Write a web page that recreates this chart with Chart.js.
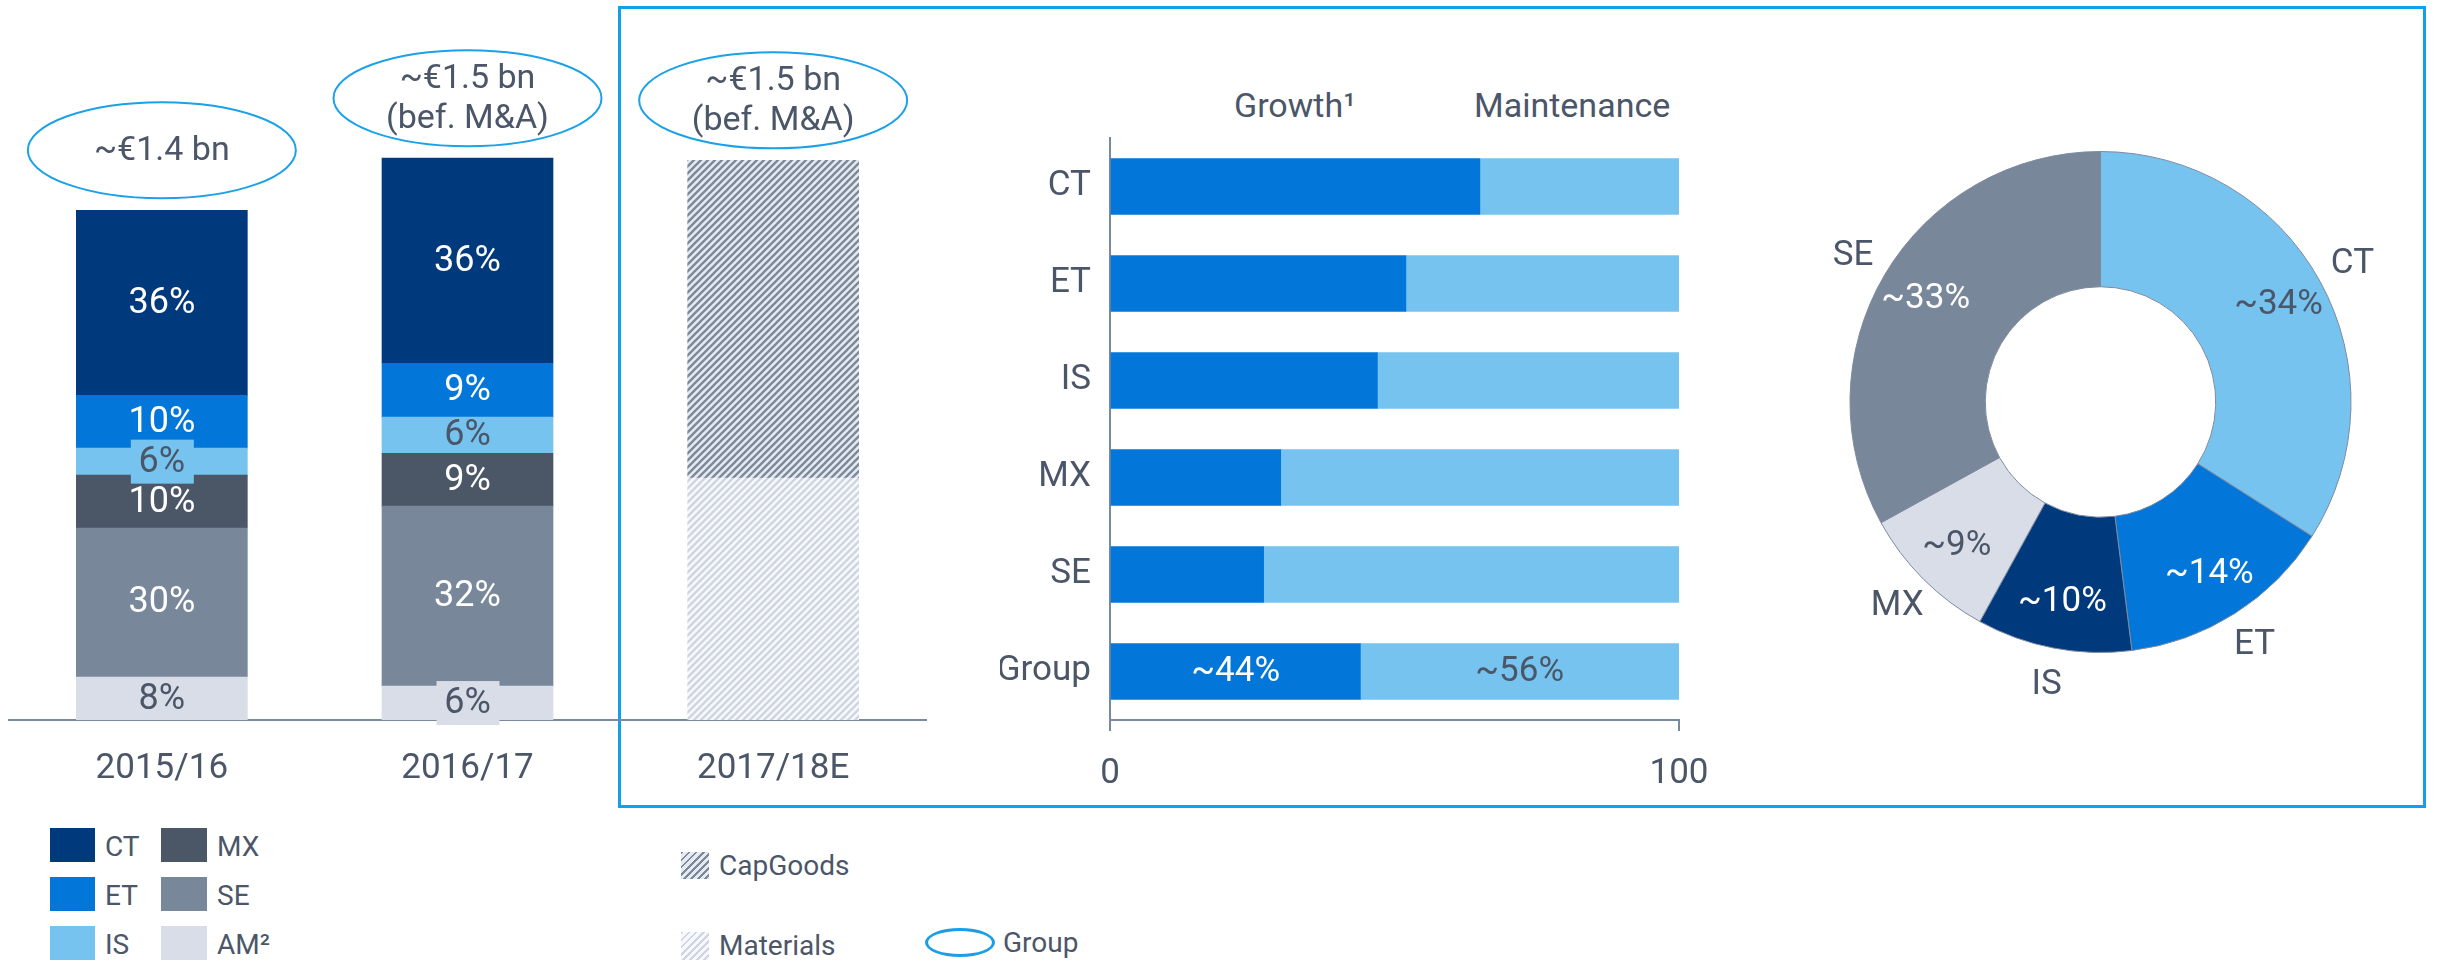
<!DOCTYPE html>
<html>
<head>
<meta charset="utf-8">
<script src="https://cdn.jsdelivr.net/npm/chart.js@4.4.1/dist/chart.umd.min.js"></script>
<style>
  body { margin: 0; background: #fff; }
  #page { position: relative; width: 2440px; height: 962px; overflow: hidden; font-family: Roboto, "Liberation Sans", sans-serif; color: #4b5668; }
  .layer { position: absolute; left: 0; top: 0; }
  .box { position: absolute; left: 618px; top: 6px; width: 1808px; height: 802px; border: 3px solid #12a0ea; box-sizing: border-box; }
  .txt { position: absolute; height: 40px; line-height: 40px; white-space: nowrap; }
  .hdr { font-size: 34px; }
  .leg { font-size: 28px; }
  .sw { position: absolute; }
  .capgoods { background: repeating-linear-gradient(135deg, #7a889c 0 2px, #e6e9ef 2px 5px); }
  .materials { background: repeating-linear-gradient(135deg, #cdd5e2 0 2px, #f7f8fb 2px 5px); }
  .grp { position: absolute; border: 3px solid #1a9fe6; border-radius: 50%; box-sizing: border-box; }
</style>
</head>
<body>
<div id="page">
  <div class="box"></div>

  <div class="txt hdr" style="left:1234px; top:85px;">Growth¹</div>
  <div class="txt hdr" style="left:1474px; top:85px;">Maintenance</div>

  <div class="sw" style="left:50px; top:828px; width:45px; height:34px; background:#003a7d;"></div>
  <div class="txt leg" style="left:105px; top:827px;">CT</div>
  <div class="sw" style="left:50px; top:877px; width:45px; height:34px; background:#0277d9;"></div>
  <div class="txt leg" style="left:105px; top:876px;">ET</div>
  <div class="sw" style="left:50px; top:926px; width:45px; height:34px; background:#75c3ee;"></div>
  <div class="txt leg" style="left:105px; top:925px;">IS</div>
  <div class="sw" style="left:161px; top:828px; width:46px; height:34px; background:#4b5667;"></div>
  <div class="txt leg" style="left:217px; top:827px;">MX</div>
  <div class="sw" style="left:161px; top:877px; width:46px; height:34px; background:#788799;"></div>
  <div class="txt leg" style="left:217px; top:876px;">SE</div>
  <div class="sw" style="left:161px; top:926px; width:46px; height:34px; background:#d9dde8;"></div>
  <div class="txt leg" style="left:217px; top:925px;">AM²</div>

  <div class="sw capgoods" style="left:681px; top:852px; width:28px; height:27px;"></div>
  <div class="txt leg" style="left:719px; top:846px;">CapGoods</div>
  <div class="sw materials" style="left:681px; top:932px; width:28px; height:28px;"></div>
  <div class="txt leg" style="left:719px; top:926px;">Materials</div>
  <div class="grp" style="left:925px; top:928px; width:70px; height:29px;"></div>
  <div class="txt leg" style="left:1003px; top:923px;">Group</div>

  <div class="layer"><canvas id="capexChart" width="2440" height="962"></canvas></div>
  <div class="layer"><canvas id="splitChart" width="2440" height="962"></canvas></div>
  <div class="layer"><canvas id="pieChart" width="2440" height="962"></canvas></div>
</div>

<script>
// capex by segment, EUR m, bottom to top
const years = ['2015/16', '2016/17', '2017/18E'];
const totalLabels = [['~€1.4 bn'], ['~€1.5 bn', '(bef. M&A)'], ['~€1.5 bn', '(bef. M&A)']];
const amValues = [118, 93, null];
const seValues = [409, 494, null];
const mxValues = [145, 145, null];
const isValues = [74, 99, null];
const etValues = [145, 148, null];
const ctValues = [508, 563, null];
const materialsValues = [null, null, 664];
const capGoodsValues = [null, null, 872];
const amPct = ['8%', '6%', ''];
const sePct = ['30%', '32%', ''];
const mxPct = ['10%', '9%', ''];
const isPct = ['6%', '6%', ''];
const etPct = ['10%', '9%', ''];
const ctPct = ['36%', '36%', ''];

// growth vs maintenance share, %
const segments = ['CT', 'ET', 'IS', 'MX', 'SE', 'Group'];
const growthShare = [65, 52, 47, 30, 27, 44];
const maintenanceShare = [35, 48, 53, 70, 73, 56];
const growthLabels = ['', '', '', '', '', '~44%'];
const maintenanceLabels = ['', '', '', '', '', '~56%'];

// 2017/18E split by segment, %
const pieLabels = ['CT', 'ET', 'IS', 'MX', 'SE'];
const pieValues = [34, 14, 10, 9, 33];
const piePct = ['~34%', '~14%', '~10%', '~9%', '~33%'];

const TEXT = '#4b5668';
const AXIS = '#7a89a0';
const FONT = 'Roboto, "Liberation Sans", sans-serif';
Chart.defaults.font.family = FONT;
Chart.defaults.color = TEXT;

function makeStripes(fg, bg) {
    const c = document.createElement('canvas');
    c.width = 7; c.height = 7;
    const g = c.getContext('2d');
    g.fillStyle = bg;
    g.fillRect(0, 0, 7, 7);
    g.strokeStyle = fg;
    g.lineWidth = 2.3;
    g.beginPath();
    g.moveTo(0, 7); g.lineTo(7, 0);
    g.moveTo(-1, 1); g.lineTo(1, -1);
    g.moveTo(6, 8); g.lineTo(8, 6);
    g.stroke();
    return g.createPattern(c, 'repeat');
}

const barLabels = {
    id: 'barLabels',
    afterDatasetsDraw(chart) {
        const ctx = chart.ctx;
        ctx.save();
        ctx.textAlign = 'center';
        ctx.textBaseline = 'middle';
        ctx.font = '36px ' + FONT;
        chart.data.datasets.forEach((ds, i) => {
            if (!ds.pct) return;
            chart.getDatasetMeta(i).data.forEach((bar, j) => {
                const txt = ds.pct[j];
                if (!txt) return;
                const y = (bar.y + bar.base) / 2;
                if (bar.base - bar.y < 35) {
                    ctx.fillStyle = ds.backgroundColor;
                    ctx.fillRect(bar.x - 31, y - 22, 63, 44);
                }
                ctx.fillStyle = ds.labelColor;
                ctx.fillText(txt, bar.x, y + 1);
            });
        });
        // total bubbles above each column
        const xs = chart.scales.x, ys = chart.scales.y;
        years.forEach((yr, j) => {
            let total = 0;
            chart.data.datasets.forEach(ds => { total += ds.data[j] || 0; });
            const cx = xs.getPixelForValue(j);
            const cy = ys.getPixelForValue(total) - 60;
            ctx.beginPath();
            ctx.ellipse(cx, cy, 134, 48, 0, 0, Math.PI * 2);
            ctx.strokeStyle = '#1ba1e8';
            ctx.lineWidth = 2;
            ctx.stroke();
            ctx.fillStyle = TEXT;
            ctx.font = '34px ' + FONT;
            const lines = totalLabels[j];
            lines.forEach((ln, k) => {
                ctx.fillText(ln, cx, cy + (k - (lines.length - 1) / 2) * 40 + 1);
            });
        });
        ctx.restore();
    }
};

function seg(label, data, color, pct, labelColor) {
    return { label: label, data: data, backgroundColor: color, pct: pct, labelColor: labelColor, barThickness: 171 };
}

new Chart(document.getElementById('capexChart'), {
    type: 'bar',
    data: {
        labels: years,
        datasets: [
            seg('AM', amValues, '#d9dde8', amPct, TEXT),
            seg('SE', seValues, '#788799', sePct, '#ffffff'),
            seg('MX', mxValues, '#4b5667', mxPct, '#ffffff'),
            seg('IS', isValues, '#75c3ee', isPct, TEXT),
            seg('ET', etValues, '#0277d9', etPct, '#ffffff'),
            seg('CT', ctValues, '#003a7d', ctPct, '#ffffff'),
            seg('Materials', materialsValues, makeStripes('#cdd5e2', '#f7f8fb'), null, TEXT),
            seg('CapGoods', capGoodsValues, makeStripes('#7a889c', '#e6e9ef'), null, TEXT)
        ]
    },
    options: {
        responsive: false,
        animation: false,
        events: [],
        layout: { padding: { left: 9, right: 1514, top: 137, bottom: 172 } },
        plugins: { legend: { display: false }, tooltip: { enabled: false } },
        scales: {
            x: {
                stacked: true,
                grid: { display: false, drawTicks: false },
                border: { display: true, color: AXIS, width: 2 },
                ticks: { font: { size: 35 }, color: TEXT, padding: 28 },
                afterFit: s => { s.height = 70; }
            },
            y: { stacked: true, display: false, min: 0, max: 1600 }
        }
    },
    plugins: [barLabels]
});

const splitLabels = {
    id: 'splitLabels',
    afterDatasetsDraw(chart) {
        const ctx = chart.ctx;
        ctx.save();
        ctx.textAlign = 'center';
        ctx.textBaseline = 'middle';
        ctx.font = '35px ' + FONT;
        chart.data.datasets.forEach((ds, i) => {
            chart.getDatasetMeta(i).data.forEach((bar, j) => {
                const txt = ds.valueLabels[j];
                if (!txt) return;
                ctx.fillStyle = ds.labelColor;
                ctx.fillText(txt, (bar.x + bar.base) / 2, bar.y + 1);
            });
        });
        ctx.restore();
    }
};

new Chart(document.getElementById('splitChart'), {
    type: 'bar',
    data: {
        labels: segments,
        datasets: [
            { label: 'Growth', data: growthShare, backgroundColor: '#0277d9', valueLabels: growthLabels, labelColor: '#ffffff', barThickness: 56 },
            { label: 'Maintenance', data: maintenanceShare, backgroundColor: '#75c3ee', valueLabels: maintenanceLabels, labelColor: TEXT, barThickness: 56 }
        ]
    },
    options: {
        indexAxis: 'y',
        responsive: false,
        animation: false,
        events: [],
        layout: { padding: { left: 1000, right: 761, top: 138, bottom: 162 } },
        plugins: { legend: { display: false }, tooltip: { enabled: false } },
        scales: {
            x: {
                stacked: true,
                min: 0,
                max: 100,
                grid: { drawOnChartArea: false, tickLength: 11, color: AXIS, lineWidth: 2 },
                border: { display: true, color: AXIS, width: 2 },
                ticks: { stepSize: 100, font: { size: 35 }, color: TEXT, padding: 22 },
                afterFit: s => { s.height = 80; }
            },
            y: {
                stacked: true,
                grid: { drawOnChartArea: false, drawTicks: false },
                border: { display: true, color: AXIS, width: 2 },
                ticks: { font: { size: 35 }, color: TEXT, padding: 19 },
                afterFit: s => { s.width = 110; }
            }
        }
    },
    plugins: [splitLabels]
});

const pieText = {
    id: 'pieText',
    afterDatasetsDraw(chart) {
        const ctx = chart.ctx;
        ctx.save();
        ctx.textAlign = 'center';
        ctx.textBaseline = 'middle';
        chart.getDatasetMeta(0).data.forEach((arc, i) => {
            const p = arc.getProps(['x', 'y', 'startAngle', 'endAngle', 'innerRadius', 'outerRadius']);
            const mid = (p.startAngle + p.endAngle) / 2;
            const rIn = p.innerRadius + 0.65 * (p.outerRadius - p.innerRadius);
            const rOut = p.outerRadius + 37;
            ctx.font = '35px ' + FONT;
            ctx.fillStyle = [TEXT, '#ffffff', '#ffffff', TEXT, '#ffffff'][i];
            ctx.fillText(piePct[i], p.x + Math.cos(mid) * rIn, p.y + Math.sin(mid) * rIn + 1);
            ctx.fillStyle = TEXT;
            ctx.fillText(pieLabels[i], p.x + Math.cos(mid) * rOut, p.y + Math.sin(mid) * rOut + 1);
        });
        ctx.restore();
    }
};

new Chart(document.getElementById('pieChart'), {
    type: 'doughnut',
    data: {
        labels: pieLabels,
        datasets: [{
            data: pieValues,
            backgroundColor: ['#75c3ee', '#0277d9', '#003a7d', '#d9dde8', '#788799'],
            borderColor: '#7d8aa0',
            borderWidth: 1,
            hoverOffset: 0
        }]
    },
    options: {
        responsive: false,
        animation: false,
        events: [],
        cutout: '46%',
        layout: { padding: { left: 1849, right: 88, top: 151, bottom: 309 } },
        plugins: { legend: { display: false }, tooltip: { enabled: false } }
    },
    plugins: [pieText]
});
</script>
</body>
</html>
